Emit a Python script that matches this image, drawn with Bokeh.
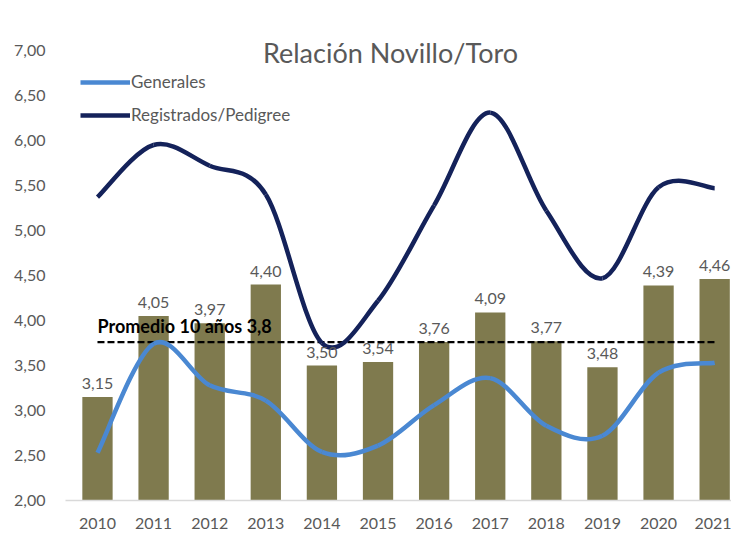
from bokeh.plotting import figure
from bokeh.models import ColumnDataSource, FixedTicker, Legend, LegendItem, Label
from bokeh.core.properties import value
from bokeh.embed import file_html
from bokeh.resources import INLINE

years = [2010, 2011, 2012, 2013, 2014, 2015, 2016, 2017, 2018, 2019, 2020, 2021]
bar_values = [3.15, 4.05, 3.97, 4.40, 3.50, 3.54, 3.76, 4.09, 3.77, 3.48, 4.39, 4.46]
generales = [2.53, 3.74, 3.28, 3.11, 2.54, 2.61, 3.06, 3.36, 2.83, 2.72, 3.42, 3.53]
registrados = [5.37, 5.95, 5.72, 5.40, 3.75, 4.22, 5.28, 6.31, 5.22, 4.47, 5.48, 5.47]
promedio = 3.76
promedio_label = "Promedio 10 años 3,8"
y_ticks = [2.0, 2.5, 3.0, 3.5, 4.0, 4.5, 5.0, 5.5, 6.0, 6.5, 7.0]
title_text = "Relación Novillo/Toro"

FONT = "Lato"
GREY = "#595959"
BAR_COLOR = "#7F7A4E"
LIGHT = "#4A88D2"
NAVY = "#14225A"


def smooth_segments(xs, ys):
    """Bezier control points (Catmull-Rom, like Excel's smoothed line)."""
    n = len(xs)
    d = dict(x0=[], y0=[], x1=[], y1=[], cx0=[], cy0=[], cx1=[], cy1=[])
    for i in range(n - 1):
        p0 = (xs[max(i - 1, 0)], ys[max(i - 1, 0)])
        p1 = (xs[i], ys[i])
        p2 = (xs[i + 1], ys[i + 1])
        p3 = (xs[min(i + 2, n - 1)], ys[min(i + 2, n - 1)])
        d["x0"].append(p1[0]); d["y0"].append(p1[1])
        d["x1"].append(p2[0]); d["y1"].append(p2[1])
        d["cx0"].append(p1[0] + (p2[0] - p0[0]) / 6.0)
        d["cy0"].append(p1[1] + (p2[1] - p0[1]) / 6.0)
        d["cx1"].append(p2[0] - (p3[0] - p1[0]) / 6.0)
        d["cy1"].append(p2[1] - (p3[1] - p1[1]) / 6.0)
    return ColumnDataSource(d)


p = figure(width=731, height=532, output_backend="svg", toolbar_location=None,
           x_range=(2009.43, 2021.30), y_range=(2.0, 7.156),
           min_border_left=65, min_border_right=0, min_border_top=36,
           min_border_bottom=32)
p.outline_line_color = None
p.xgrid.visible = False
p.ygrid.visible = False
p.background_fill_color = "white"
p.border_fill_color = "white"

bar_src = ColumnDataSource(dict(x=years, top=bar_values,
                                label=[f"{v:.2f}".replace(".", ",") for v in bar_values]))
p.vbar(x="x", top="top", bottom=2.0, width=0.54, source=bar_src,
       fill_color=BAR_COLOR, line_color=None)

p.line(x=[years[0], years[-1]], y=[promedio, promedio], line_color="black",
       line_width=2.2, line_dash="7 3")

gen = p.bezier(x0="x0", y0="y0", x1="x1", y1="y1", cx0="cx0", cy0="cy0",
               cx1="cx1", cy1="cy1", source=smooth_segments(years, generales),
               line_color=LIGHT, line_width=4.5)
reg = p.bezier(x0="x0", y0="y0", x1="x1", y1="y1", cx0="cx0", cy0="cy0",
               cx1="cx1", cy1="cy1", source=smooth_segments(years, registrados),
               line_color=NAVY, line_width=4.5)

p.text(x="x", y="top", text="label", source=bar_src, y_offset=-8,
       text_align="center", text_baseline="bottom", text_color=GREY,
       text_font=value(FONT), text_font_size="16px")

p.text(x=[years[0]], y=[promedio], text=[promedio_label], y_offset=-5,
       text_align="left", text_baseline="bottom", text_color="black",
       text_font=value(FONT), text_font_size="18px", text_font_style="bold")

p.add_layout(Label(x=325, y=448, x_units="screen", y_units="screen",
                   text=title_text, text_align="center", text_baseline="middle",
                   text_color=GREY, text_font=FONT, text_font_size="27px"))

legend = Legend(items=[LegendItem(label="Generales", renderers=[gen]),
                       LegendItem(label="Registrados/Pedigree", renderers=[reg])],
                location=(15, 375), orientation="vertical",
                background_fill_alpha=0, border_line_color=None,
                glyph_width=50, glyph_height=20, label_height=20, spacing=12,
                label_standoff=1, padding=0, margin=0,
                label_text_font=FONT, label_text_font_size="17px",
                label_text_color=GREY)
p.add_layout(legend)

p.xaxis.ticker = FixedTicker(ticks=years)
p.xaxis.axis_line_color = "#D9D9D9"
p.xaxis.axis_line_width = 1.5
p.xaxis.major_tick_line_color = None
p.xaxis.minor_tick_line_color = None
p.xaxis.major_label_standoff = 11
p.xaxis.major_label_text_font = FONT
p.xaxis.major_label_text_font_size = "16px"
p.xaxis.major_label_text_color = GREY

p.yaxis.ticker = FixedTicker(ticks=y_ticks)
p.yaxis.major_label_overrides = {t: f"{t:.2f}".replace(".", ",") for t in y_ticks}
p.yaxis.axis_line_color = None
p.yaxis.major_tick_line_color = None
p.yaxis.minor_tick_line_color = None
p.yaxis.major_label_standoff = 14
p.yaxis.major_label_text_font = FONT
p.yaxis.major_label_text_font_size = "16px"
p.yaxis.major_label_text_color = GREY

open("out.html", "w").write(file_html(p, INLINE))
